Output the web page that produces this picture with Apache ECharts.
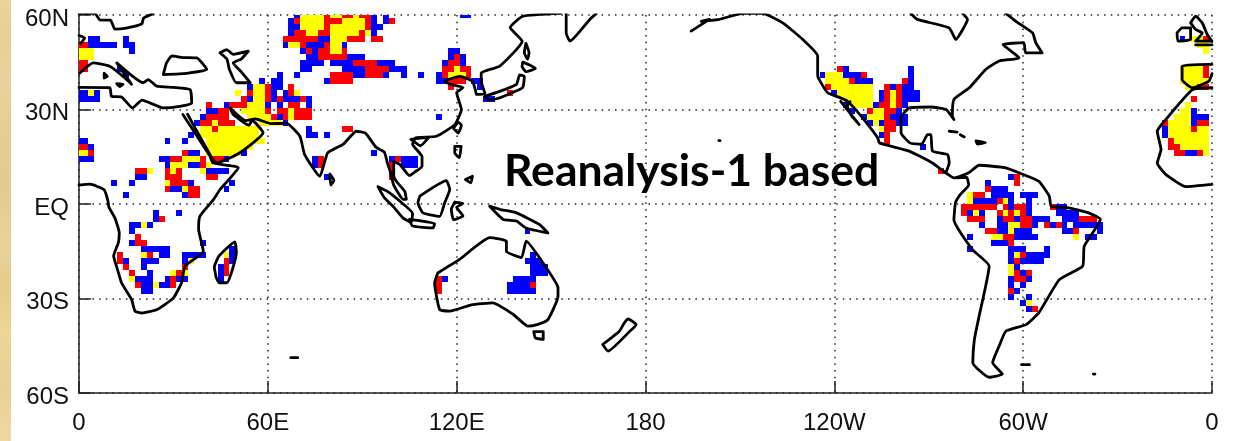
<!DOCTYPE html>
<html><head><meta charset="utf-8">
<style>html,body{margin:0;padding:0;background:#fff}#c{width:1235px;height:441px}</style>
<script src="https://cdn.jsdelivr.net/npm/echarts@6/dist/echarts.min.js"></script>
</head><body><div id="c"></div>
<script>
// tick labels
const lonTicks = {0:'0',60:'60E',120:'120E',180:'180',240:'120W',300:'60W',360:'0'};
const latTicks = {60:'60N',30:'30N',0:'EQ','-30':'30S','-60':'60S'};
const LON_STEP = 1.875; // T62 gaussian grid spacing, degrees
const LAT_STEP = 1.904;
// cell runs: [lat index, first lon index, last lon index, class]  1 blue, 2 red, 3 yellow
const europeRuns = [[28,2,3,1],[28,8,8,1],[27,0,1,2],[27,2,6,1],[27,8,9,1],[26,0,2,3],[26,9,9,1],[25,0,2,3],[24,0,1,2],[23,0,1,2],[23,7,7,1],[22,8,8,1],
 [19,0,1,1],[19,2,2,3],[19,3,3,1],[18,0,3,1]];
const saharaLeftRuns = [[11,0,1,1],[10,0,1,2],[10,2,2,1],[9,0,1,3],[9,2,2,2],[8,0,2,1]];
const eastAfricaRuns = [[12,19,19,1],[11,15,15,1],[11,18,18,1],[9,18,18,2],[9,19,20,1],
 [8,14,15,1],[8,16,17,2],[8,18,20,3],[8,21,21,2],[8,23,24,2],[8,25,25,1],
 [7,15,15,1],[7,16,18,3],[7,19,20,1],[7,21,21,2],[7,22,22,3],
 [6,10,11,2],[6,12,12,3],[6,15,15,2],[6,16,16,3],[6,17,17,2],[6,21,21,3],[6,22,25,1],
 [5,10,11,1],[5,15,17,2],[5,22,23,2],
 [4,6,6,1],[4,9,9,1],[4,15,15,3],[4,16,18,2],[4,19,19,1],[4,26,26,1],
 [3,15,15,2],[3,16,17,1],[3,18,18,3],[3,19,20,2],[3,25,25,1],
 [2,8,8,1],[2,18,18,1],[2,19,20,2]];
const southAfricaRuns = [[-1,13,13,1],[-1,17,17,1],[-2,13,13,1],[-2,14,14,2],[-3,9,10,1],[-3,11,11,3],[-3,12,12,1],[-4,9,9,1],[-5,10,10,2],
 [-6,9,9,1],[-6,10,11,2],[-6,21,21,1],[-7,11,15,1],
 [-8,7,7,2],[-8,11,11,3],[-8,12,12,2],[-8,14,15,1],[-8,18,21,1],
 [-9,7,7,2],[-9,8,8,1],[-9,11,13,1],[-9,18,18,1],[-9,19,19,3],
 [-10,8,8,2],[-10,11,11,1],[-10,18,18,2],
 [-11,9,9,2],[-11,12,12,1],[-11,16,16,3],[-11,17,17,2],[-11,18,18,3],
 [-12,9,9,3],[-12,10,12,1],[-12,15,15,1],[-12,16,16,2],[-12,17,18,1],
 [-13,10,10,2],[-13,11,12,1],[-13,13,13,3],[-13,14,15,1],[-13,16,16,2],[-14,11,12,1],
 [-7,26,26,1],[-8,25,25,3],[-8,26,26,1],[-9,25,25,2],[-9,26,26,1],[-10,24,24,1],[-10,25,25,2],[-11,24,24,1],[-11,25,25,2],[-12,24,24,1]];
const arabiaRuns = [[22,34,34,1],[21,31,31,1],[21,33,34,1],[20,29,29,1],[20,30,31,3],[20,32,32,2],[20,33,34,1],[20,36,36,2],
 [19,27,27,3],[19,29,29,2],[19,30,31,3],[19,32,32,2],[19,33,33,1],[19,35,35,1],[19,36,36,2],[19,37,37,3],
 [18,28,28,2],[18,29,29,1],[18,30,31,3],[18,32,32,2],[18,33,33,1],[18,34,34,2],[18,35,37,1],[18,38,38,2],[18,39,39,1],
 [17,22,22,2],[17,25,25,1],[17,26,28,2],[17,29,31,3],[17,32,32,1],[17,34,34,1],[17,36,37,2],[17,39,39,1],
 [16,22,23,1],[16,24,25,2],[16,28,31,3],[16,32,32,2],[16,34,35,2],[16,36,36,3],[16,37,39,2],
 [15,21,21,1],[15,22,25,2],[15,29,32,3],[15,33,33,2],[15,34,34,1],[15,35,36,2],[15,36,36,3],[15,37,39,2],
 [14,20,20,1],[14,21,22,2],[14,23,23,3],[14,24,26,2],[14,31,34,3],[14,35,35,1],
 [13,21,22,3],[13,23,23,2],[13,24,30,3],[13,39,39,1],[13,45,46,2],
 [12,21,30,3],[12,39,39,1],[12,40,40,1],[12,42,42,1],
 [11,22,31,3],[10,22,29,3],[9,22,27,3],[9,28,28,1],[9,20,20,1]];
const centralAsiaRuns = [[32,37,37,1],[32,38,41,3],[32,42,42,2],[32,43,44,3],[32,45,46,2],[32,47,47,3],[32,48,49,2],[32,50,50,1],[32,52,52,1],
 [31,36,36,1],[31,37,37,2],[31,38,41,3],[31,42,44,2],[31,45,48,3],[31,49,49,2],[31,50,50,1],[31,52,52,1],[31,53,53,2],
 [30,36,37,1],[30,38,41,3],[30,42,42,2],[30,43,48,3],[30,49,49,2],[30,50,51,1],
 [29,36,36,1],[29,37,38,2],[29,39,40,3],[29,41,42,2],[29,43,47,3],[29,48,48,2],[29,49,49,3],[29,50,50,1],
 [28,35,40,2],[28,41,42,1],[28,43,45,3],[28,46,48,2],[28,50,51,2],
 [27,35,35,1],[27,36,37,3],[27,38,38,2],[27,39,41,1],[27,42,42,2],[27,43,44,3],[27,45,45,1],
 [26,38,38,1],[26,39,39,2],[26,40,40,1],[26,41,42,2],[26,43,44,3],[26,45,45,2],
 [25,39,40,1],[25,41,45,2],[25,46,48,1],
 [24,38,41,1],[24,43,46,1],[24,47,50,2],[24,51,53,1],
 [23,38,39,1],[23,45,48,1],[23,49,52,2],[23,53,55,1],
 [22,37,37,1],[22,43,46,2],[22,47,48,1],[22,49,51,2],[22,52,52,1],[22,55,55,1],
 [21,42,42,1],[21,43,46,2]];
const southAsiaRuns = [[8,40,40,1],[8,41,41,2],[7,41,41,2],[7,40,40,1],[5,42,42,1],[9,50,50,1],[8,53,53,1],[8,54,54,2],[8,55,57,1],[7,53,53,2],[7,55,57,1],[6,53,53,2],[5,53,53,2],
 [32,65,66,1],[26,63,64,1],[25,63,63,1],[25,64,64,2],[25,65,65,1],[24,62,62,1],[24,63,64,2],[24,65,65,1],
 [23,55,55,1],[23,62,63,2],[23,64,64,3],[23,65,66,2],[22,55,55,1],[22,58,58,1],[22,61,61,1],[22,62,62,2],[22,63,65,3],[22,66,66,2],
 [21,61,62,1],[21,63,65,2],[21,67,68,1],[20,63,63,2],[20,68,68,1],[19,73,73,2],[18,69,70,1],[15,61,61,1]];
const australiaRuns = [[-4,76,76,1],[-8,77,77,1],[-9,76,78,1],[-10,77,79,1],[-11,77,79,1],[-12,61,61,2],[-12,62,62,1],[-12,74,77,1],
 [-13,61,61,2],[-13,73,76,1],[-13,77,77,2],[-14,61,61,2],[-14,73,77,1]];
const mexicoRuns = [[23,129,129,2],[23,130,130,1],[23,141,141,1],
 [22,126,126,1],[22,127,129,3],[22,130,132,1],[22,133,133,2],[22,141,141,1],
 [21,127,130,3],[21,131,131,2],[21,132,134,1],[21,140,140,2],[21,141,141,1],
 [20,127,127,2],[20,128,134,3],[20,137,137,2],[20,138,138,1],[20,139,139,2],[20,140,141,1],
 [19,128,128,1],[19,129,134,3],[19,136,136,1],[19,137,137,2],[19,138,138,3],[19,139,139,2],[19,140,142,1],
 [18,130,134,3],[18,136,136,1],[18,137,137,2],[18,138,138,3],[18,139,139,2],[18,140,142,1],
 [17,130,130,1],[17,131,134,3],[17,135,135,1],[17,136,137,2],[17,138,138,3],[17,139,139,2],[17,140,140,1],
 [16,131,131,1],[16,134,134,2],[16,135,136,3],[16,137,138,2],[16,139,139,1],
 [15,133,133,1],[15,134,136,3],[15,137,137,2],[15,138,140,1],
 [14,134,134,1],[14,135,135,3],[14,136,136,1],[14,137,138,2],[14,139,140,1],
 [13,136,136,3],[13,137,138,2],[12,136,136,1],[12,137,137,2],[11,137,137,2],[10,143,143,1],[6,146,146,2]];
const southAmericaRuns = [[5,158,158,1],[5,159,159,2],[4,154,154,1],[4,159,159,2],[3,154,154,2],[3,155,157,1],
 [2,151,151,3],[2,152,153,2],[2,155,158,1],[2,160,162,1],
 [1,151,151,3],[1,152,155,1],[1,156,156,2],[1,157,157,3],[1,158,158,1],[1,161,161,1],
 [0,150,155,2],[0,157,157,2],[0,158,158,1],[0,159,160,2],[0,161,161,1],[0,165,165,2],[0,166,167,1],
 [-1,150,150,2],[-1,151,151,1],[-1,152,152,3],[-1,153,153,1],[-1,156,156,2],[-1,157,157,3],[-1,158,158,2],[-1,159,159,3],[-1,160,160,2],[-1,161,161,1],[-1,166,169,1],
 [-2,151,153,2],[-2,156,156,1],[-2,157,158,2],[-2,159,159,1],[-2,160,161,2],[-2,162,164,1],[-2,167,169,1],[-2,170,172,2],
 [-3,153,153,1],[-3,156,157,1],[-3,158,159,3],[-3,160,161,2],[-3,162,162,1],[-3,164,164,2],[-3,165,165,1],[-3,166,166,2],[-3,167,167,1],[-3,169,173,1],
 [-4,154,155,2],[-4,156,157,1],[-4,158,158,3],[-4,159,161,1],[-4,167,168,1],[-4,169,169,2],[-4,173,173,1],
 [-5,151,151,1],[-5,155,156,3],[-5,157,158,2],[-5,159,159,1],[-5,160,162,1],[-5,169,169,3],[-5,171,172,1],
 [-6,155,157,1],[-6,158,158,2],[-7,151,151,1],[-7,158,160,1],[-7,164,164,1],
 [-8,158,158,1],[-8,159,159,3],[-8,160,160,2],[-8,161,164,1],
 [-9,158,158,1],[-9,159,159,2],[-9,160,163,1],[-10,158,158,3],[-10,159,159,1],
 [-11,158,158,3],[-11,159,159,2],[-11,160,160,1],[-11,161,161,2],
 [-12,158,158,1],[-12,159,160,2],[-12,161,161,1],[-13,158,158,1],[-13,160,160,1],
 [-14,158,158,2],[-14,159,159,1],[-15,158,158,1],[-15,161,161,1],[-16,160,160,1],[-16,161,161,3],[-17,161,161,1],[-17,162,162,2]];
const westAfricaEdgeRuns = [[28,187,187,1],[28,189,190,3],[28,191,191,2],[27,190,191,3],[26,191,191,3],
 [23,187,190,3],[23,191,191,2],[22,187,190,3],[22,191,191,2],[21,187,191,3],[20,188,188,3],[20,189,189,3],[20,190,191,2],
 [18,189,189,2],[17,188,188,3],[16,187,188,3],[16,189,189,1],[15,186,188,3],[15,189,189,1],[15,190,191,1],
 [14,184,184,2],[14,185,188,3],[14,189,189,1],[14,190,191,2],[13,184,184,1],[13,185,188,3],[13,189,189,2],[13,190,191,3],
 [12,184,184,1],[12,185,191,3],[11,185,185,2],[11,186,191,3],[10,185,186,2],[10,187,191,3],[9,186,187,2],[9,188,189,1],[9,190,190,2],[9,191,191,3]];

// coastlines: each list is one outline of [lon, lat]
const africaOutline = [[0,6],[3.5,6.3],[8,4.5],[9.2,1],[9.5,-1],[11.4,-4.4],[12.8,-9.2],[12.5,-12.3],[11,-16.5],[12,-20],[13.5,-25],[16.7,-30.3],[17.8,-34],[20,-34.6],[24.8,-33.5],[30,-29.8],[32.6,-25],[33.7,-19.7],[39.5,-15],[38,-8],[38.4,-3.9],[42.7,1.4],[44.8,4.6],[50.6,11.5],[42.6,13],[41.6,15.2],[33,28.4]];
const medSouth = [[0,37],[9.8,36.9],[10.3,34.2],[13.5,34],[17,30.5],[20,33],[26.8,30.5],[32,31],[35.8,32],[35.3,36.3],[30,37],[24.7,37.4],[22,39.5],[20.4,38.5],[12,44.8],[16.7,38],[14.6,40],[9.8,43.7],[4.5,44.8],[0.3,41.6]];
const blackSea = [[26.8,41.1],[27.8,44.8],[29.5,47],[33,46.5],[37.4,46.4],[40.6,42.7],[34.2,41.5],[26.8,41.1]];
const caspian = [[44.8,48],[47,49],[49,47.5],[53.8,48.5],[51.5,46],[49,44.8],[51.5,42],[54.4,38.5],[50,38.5],[47.8,42.7],[47,46],[44.8,48]];
const arabiaOutline = [[34.5,28.5],[36.3,25.2],[42,15],[43.7,13],[51,16.2],[58.5,22.6],[55,26.5],[54,25],[49,28.4],[48,30.5],[53,26.5],[56,27],[61,25.5],[66,25.6],[70.2,21.5],[71.7,15.7],[76.5,8.8],[79,16.2],[84,19],[88.1,23.1],[91,22.5],[94.4,18],[97,16.5],[98,13],[99,10],[100,6],[103,1.5],[104,1.5],[103.5,4],[101,7],[100,9],[100,13.5],[102,12.5],[105,9],[106.5,10],[109,12],[109,15],[106,19],[107,21],[113.6,21.5],[119.4,25.2],[121.5,30],[120,35.3],[122,37],[118,38],[116.2,39],[121,40.5],[125,39],[126,36],[126.3,34.8],[129,35],[127.8,39],[127.8,41.6],[133.7,43.8],[140.8,51.7],[137,56],[141,59.6],[153,60.5]];
const kamchatka = [[154.8,60.5],[154.8,54.3],[156,51.7],[162.3,58.6],[164.4,60.5]];
const scandinavia = [[0,60.5],[5,60.5],[6.7,58.4],[10,58.4],[11.4,55.5],[15,55.8],[20,57.2],[20.5,59],[23.6,60.5]];
const europeNorth = [[0,53.5],[1.8,52.7],[0.5,51]];
const honshu = [[129,34.2],[130,33],[133,33.5],[138,35.5],[141,37],[141.5,40.5],[140,41],[139,38],[133,35.5],[129,34.2]];
const hokkaido = [[140.8,43.5],[141,45],[145,43],[142,42],[140.8,43.5]];
const sakhalin = [[142,51],[143,48],[142.5,46],[141.5,48],[142,51]];
const taiwan = [[119,24],[120.5,26],[121.5,25],[120.5,22.5],[119,24]];
const hainan = [[105.5,20.5],[109,21],[111,21],[108.5,18.5],[105.5,20.5]];
const luzon = [[119.4,18.3],[121.4,18.3],[120.9,14.7],[119.4,16.2],[119.4,18.3]];
const mindanao = [[122.8,7.8],[125,8.8],[124.5,6.7],[122.8,7.8]];
const sumatra = [[95,5.5],[98,4],[103,0],[106,-3],[105.5,-5.8],[103,-4.5],[100,-1],[97,2],[95,5.5]];
const borneo = [[108.3,2.5],[116.7,7.4],[117.8,4.6],[116.2,0.4],[114.6,-3.9],[109.3,-2.8],[107.7,0.4],[108.3,2.5]];
const sulawesi = [[119.4,0.6],[122,0.2],[120,-1],[122,-3.8],[119,-5],[118.3,-1.7],[119.4,0.6]];
const java = [[105,-4.9],[113,-6.2],[112.5,-7.6],[106,-7],[105,-4.9]];
const newGuinea = [[130.5,-0.7],[133.7,-1.7],[139,-2.8],[146.3,-6.5],[149,-9.2],[142,-7.6],[139,-5.4],[134.8,-4.9],[130.5,-0.7]];
const australia = [[114,-21.9],[113,-25],[114.6,-33.5],[117.8,-34],[124.7,-32],[131.5,-31.4],[137.9,-35],[142.7,-38.8],[145.8,-38.2],[149,-36.7],[152.2,-29.3],[152.2,-26.6],[148.5,-20.3],[142.1,-11.8],[140.6,-17],[135.8,-15],[135.8,-11.8],[130.5,-10.7],[120.9,-17.6],[114,-21.9]];
const tasmania = [[144.5,-40.5],[147.5,-40.5],[147.5,-43],[145,-42.5],[144.5,-40.5]];
const newZealand = [[166.4,-44.6],[171.7,-40.4],[173.3,-37.7],[174.5,-36.5],[177,-38.3],[175,-40.4],[168.1,-46.7],[166.4,-44.6]];
const sriLanka = [[79.7,9.5],[81,7.5],[80,6],[79.7,9.5]];
const madagascar = [[43.5,-23],[43,-20],[44.5,-16.5],[49.5,-12],[50,-15.5],[47,-25],[44.5,-25],[43.5,-23]];
const corsica = [[8,41.5],[9,40.5],[8,40],[8,41.5]];
const sicily = [[12,38.2],[14,38],[13,37.3],[12,38.2]];
const northAmericaWest = [[194.5,54.9],[200.3,58.6],[197.7,58],[203,58.5],[211,60.5],[217.2,60.5],[223.6,57.5],[230,52.2],[234.7,47],[234.7,40.9],[235.2,39.5],[237.9,35.3],[242,33.7],[244.2,32.6],[248.5,27.9],[253.8,21],[254.3,19.4],[263.8,16.8],[271.2,13],[275.4,9.9],[278,8.3],[282.7,9.9],[286,12.3],[294.5,11.5],[298.7,9.9],[305,7.2],[308.3,2.5],[308.9,-0.7],[314.4,-1.2],[320.8,-2.8],[324.5,-4.9],[319.4,-13.4],[318.9,-19.7],[311.5,-24],[305,-34.5],[300.9,-38.3],[294.5,-40.4],[292.4,-45],[290.3,-50.4],[293.4,-54],[289.2,-55],[284,-50.4],[284.5,-43],[286,-35.6],[289.2,-19.7],[283.9,-14.5],[278,-5],[278.5,0.4],[280,3],[282.7,6],[282,8.5],[278,8.3]];
const baja = [[242,32.6],[247.9,25.2],[245.5,28],[244,31],[245,32.5]];
const northAmericaEast = [[264.3,60.5],[266.4,58.6],[276.5,55.9],[278.6,52.2],[280.8,55.4],[282.3,58.6],[280.8,60.5]];
const quebecToGulf = [[294.5,60.5],[297.7,58],[303,54.3],[304,51.2],[306,48],[300.8,48],[300.2,51.2],[293.6,50.6],[298.7,46.4],[292.4,45.4],[288.1,42.7],[282.9,36.9],[278,33.2],[277.5,27.9],[278,26.8],[275.5,30],[270.7,30.8],[263.8,30.5],[261.2,27.4],[261.2,22.6],[264,19.4],[267.7,18.9],[269.6,22],[270.7,22],[271.2,16.8],[276,15.7],[276.5,13],[275.4,9.9]];
const cuba = [[276.5,23.1],[279,22.8]];
const cubaEast = [[280,22],[281.3,21.3]];
const hispaniola = [[285,20],[288,19.5],[285.5,19],[285,20]];
const iberia = [[360,44.3],[350.5,43.8],[350.5,39.5],[353.8,36.9],[359,39],[360,41.4]];
const westAfricaOutline = [[360,36.9],[353.8,36.3],[345.3,26.8],[342.6,23.1],[343.8,17.3],[342.6,13],[345.3,9.4],[351.7,5.5],[360,6.2]];
const ireland = [[348.9,54.3],[350.5,55.9],[353.2,55.9],[353.2,52.2],[349.2,51.7],[348.9,54.3]];
const britain = [[353.2,57.5],[354.8,59.6],[356.9,57.5],[358.5,53.8],[360,51.7],[354.8,51.7],[356.9,54.3],[354.8,55.4],[353.2,57.5]];
const franceNorth = [[354.8,50.5],[360,50.5]];
const kerguelen = [[67.3,-48.8],[69.5,-48.8]];
const falkland = [[299.5,-51],[302,-51]];
const southGeorgia = [[322.3,-54],[322.8,-54]];
const hawaii = [[203.3,20.1],[203.7,20.1]];
const coastlines = [africaOutline,medSouth,blackSea,caspian,arabiaOutline,kamchatka,scandinavia,europeNorth,honshu,hokkaido,sakhalin,taiwan,hainan,luzon,mindanao,sumatra,borneo,sulawesi,java,newGuinea,australia,tasmania,newZealand,sriLanka,madagascar,corsica,sicily,northAmericaWest,baja,northAmericaEast,quebecToGulf,cuba,cubaEast,hispaniola,iberia,westAfricaOutline,ireland,britain,franceNorth,kerguelen,falkland,southGeorgia,hawaii];

const classColors = {1:'#0000ff',2:'#ff0000',3:'#ffff00'};
const cells = [];
[europeRuns,saharaLeftRuns,eastAfricaRuns,southAfricaRuns,arabiaRuns,centralAsiaRuns,southAsiaRuns,australiaRuns,mexicoRuns,southAmericaRuns,westAfricaEdgeRuns].forEach(g=>{
  g.forEach(([j,a,b,v])=>{ for(let c=a;c<=b;c++) cells.push([c*LON_STEP,(j-0.5)*LAT_STEP,v]); });
});
const chart = echarts.init(document.getElementById('c'),null,{renderer:'canvas'});
const series = [{
  type:'custom',data:cells,clip:true,z:2,silent:true,animation:false,
  encode:{x:0,y:1},
  renderItem(p,api){
    const lon=api.value(0),lat=api.value(1);
    const a=api.coord([lon-LON_STEP/2,lat+LAT_STEP/2]),b=api.coord([lon+LON_STEP/2,lat-LAT_STEP/2]);
    const x0=Math.round(a[0]),y0=Math.round(a[1]),x1=Math.round(b[0]),y1=Math.round(b[1]);
    return {type:'rect',shape:{x:x0,y:y0,width:x1-x0,height:y1-y0},style:{fill:classColors[api.value(2)]}};
  }
}];
coastlines.forEach(l=>series.push({type:'line',data:l,showSymbol:false,symbol:'none',clip:true,z:3,silent:true,animation:false,smooth:0.15,
  lineStyle:{color:'#000',width:2.8,join:'round',cap:'round'}}));
chart.setOption({
  animation:false,backgroundColor:'#fff',
  title:{text:'Reanalysis-1 based',left:504,top:149,padding:0,textStyle:{fontFamily:'Lato',fontWeight:'bold',fontSize:44.5,color:'#000'}},
  grid:{left:79,right:23,top:15,bottom:48},
  graphic:[{type:'rect',z:0,shape:{x:0,y:0,width:11,height:441},style:{fill:{type:'linear',x:0,y:0,x2:0,y2:1,colorStops:[
    {offset:0,color:'#ecd59a'},{offset:.08,color:'#e8cf94'},{offset:.18,color:'#e9d29c'},{offset:.3,color:'#e6cd93'},{offset:.42,color:'#e3ca92'},{offset:.55,color:'#e9d29a'},{offset:.65,color:'#e7cb8c'},{offset:.75,color:'#edd597'},{offset:.88,color:'#e9d096'},{offset:1,color:'#eed9a0'}]}}}],
  xAxis:{type:'value',min:0,max:360,interval:60,
    axisLine:{show:true,onZero:false,lineStyle:{color:'#222',width:1.5}},
    axisTick:{show:true,inside:true,length:12,lineStyle:{color:'#222',width:1.5}},
    axisLabel:{margin:18,fontFamily:'Liberation Sans',fontSize:24,color:'#111',formatter:v=>lonTicks[v]},
    splitLine:{show:true,lineStyle:{color:'#222',width:1.5,type:[1.5,5.2]}}},
  yAxis:{type:'value',min:-60,max:60,interval:30,
    axisLine:{show:true,onZero:false,lineStyle:{color:'#222',width:1.5}},
    axisTick:{show:true,inside:true,length:12,lineStyle:{color:'#222',width:1.5}},
    axisLabel:{margin:10,formatter:v=>'{t|'+latTicks[v]+'}',
      rich:{t:{fontFamily:'Liberation Sans',fontSize:24,color:'#111',padding:[8,0,0,0]}}},
    splitLine:{show:true,lineStyle:{color:'#222',width:1.5,type:[1.5,5.2]}}},
  series
});
</script></body></html>
